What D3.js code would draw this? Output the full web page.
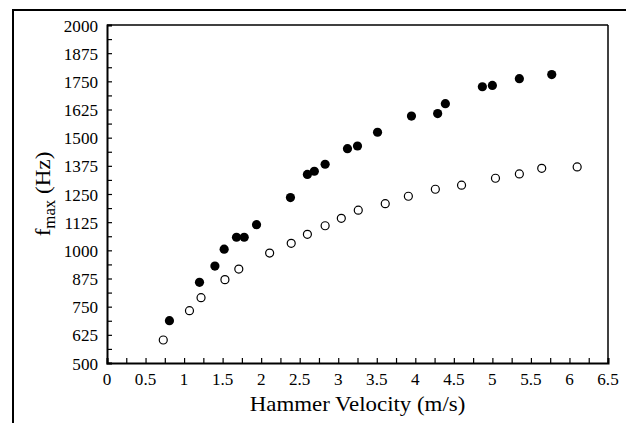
<!DOCTYPE html>
<html><head><meta charset="utf-8">
<script src="https://cdn.jsdelivr.net/npm/d3@7"></script>
<style>body{margin:0;background:#fff}svg{display:block}</style>
</head><body>
<svg id="c" width="626" height="423"></svg>
<script>
const filledV = [0.81,1.20,1.40,1.52,1.68,1.78,1.94,2.38,2.60,2.69,2.83,3.12,3.25,3.51,3.95,4.29,4.39,4.87,5.00,5.35,5.77];
const filledF = [688,858,930,1005,1058,1058,1114,1234,1337,1351,1382,1451,1463,1524,1596,1607,1651,1726,1732,1762,1780];
const openV = [0.73,1.07,1.22,1.53,1.71,2.11,2.39,2.60,2.83,3.04,3.26,3.61,3.91,4.26,4.60,5.04,5.35,5.64,6.10];
const openF = [602,732,790,870,917,988,1031,1071,1109,1142,1178,1207,1240,1271,1289,1320,1339,1364,1370];
const xTicks = [0,0.5,1,1.5,2,2.5,3,3.5,4,4.5,5,5.5,6,6.5];
const yTicks = [500,625,750,875,1000,1125,1250,1375,1500,1625,1750,1875,2000];
const xTitle = "Hammer Velocity (m/s)";

const FONT = "'Liberation Serif', 'DejaVu Serif', serif";
const SX = 1.07;
const svg = d3.select("#c").attr("font-family",FONT);
const L=107,R=608,T=25,B=363;
const x = d3.scaleLinear().domain([0,6.5]).range([L,R]);
const y = d3.scaleLinear().domain([500,2000]).range([B,T]);

// outer frame (top & left)
svg.append("line").attr("x1",12).attr("x2",626).attr("y1",10).attr("y2",10).attr("stroke","#000").attr("stroke-width",2);
svg.append("line").attr("x1",13).attr("x2",13).attr("y1",9).attr("y2",423).attr("stroke","#000").attr("stroke-width",2);

// plot frame
svg.append("line").attr("x1",L).attr("x2",R).attr("y1",T).attr("y2",T).attr("stroke","#000").attr("stroke-width",1.5);
svg.append("line").attr("x1",R).attr("x2",R).attr("y1",T).attr("y2",B).attr("stroke","#000").attr("stroke-width",1.5);

// ticks
const xMinor = d3.range(0,6.5001,0.25);
const yMinor = d3.range(500,2000.1,62.5);
const xAxis = d3.axisBottom(x).tickValues(xMinor).tickSize(-5).tickFormat("");
const yAxis = d3.axisLeft(y).tickValues(yMinor).tickSize(-5).tickFormat("");
const gx = svg.append("g").attr("transform",`translate(0,${B})`).call(xAxis);
const gy = svg.append("g").attr("transform",`translate(${L},0)`).call(yAxis);
[gx,gy].forEach(g=>{g.select(".domain").attr("stroke-width",2).attr("stroke","#000");g.selectAll(".tick line").attr("stroke","#000").attr("stroke-width",1.2);});

// labels
svg.append("g").selectAll("text").data(xTicks).join("text")
  .attr("font-family",FONT)
  .attr("transform",d=>`translate(${x(d)},385) scale(${SX},1)`).attr("text-anchor","middle").attr("font-size",16).text(d=>d);
svg.append("g").selectAll("text").data(yTicks).join("text")
  .attr("font-family",FONT)
  .attr("transform",d=>`translate(98,${y(d)+6.5}) scale(${SX},1)`).attr("text-anchor","end").attr("font-size",16).text(d=>d);

svg.append("text").attr("font-family",FONT).attr("transform",`translate(${x(3.25)},411) scale(1.04,1)`).attr("text-anchor","middle").attr("font-size",22).text(xTitle);
const yl = svg.append("text").attr("font-family",FONT).attr("transform",`translate(50,${(T+B)/2}) rotate(-90) scale(1.05,1)`).attr("text-anchor","middle").attr("font-size",22);
yl.append("tspan").text("f");
yl.append("tspan").attr("font-size",16).attr("dy",5).text("max");
yl.append("tspan").attr("dy",-5).text(" (Hz)");

// points
svg.append("g").selectAll("circle").data(openV.map((v,i)=>[v,openF[i]])).join("circle")
  .attr("cx",d=>x(d[0])).attr("cy",d=>y(d[1])).attr("r",4).attr("fill","#fff").attr("stroke","#000").attr("stroke-width",1.2);
svg.append("g").selectAll("circle").data(filledV.map((v,i)=>[v,filledF[i]])).join("circle")
  .attr("cx",d=>x(d[0])).attr("cy",d=>y(d[1])).attr("r",4.6).attr("fill","#000");
</script>
</body></html>
